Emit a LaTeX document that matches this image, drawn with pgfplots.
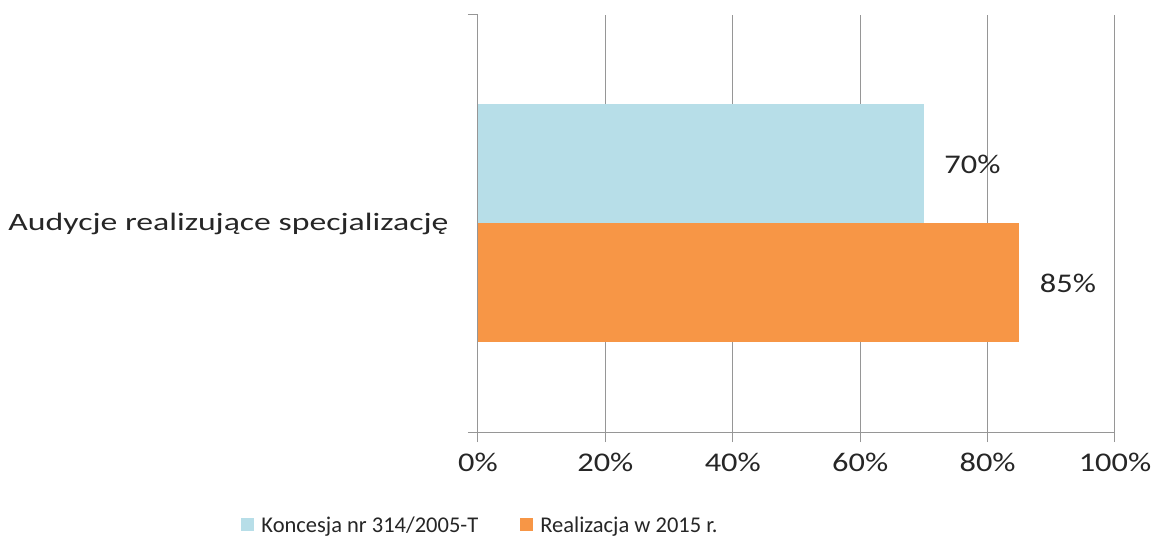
\documentclass[border=0pt]{standalone}
\usepackage{fontspec}
\setmainfont{Carlito}
\newfontfamily\wide[FakeStretch=1.2]{Carlito}
\newfontfamily\wider[FakeStretch=1.35]{Carlito}
\usepackage{pgfplots}
\pgfplotsset{compat=1.18}
\definecolor{cblue}{RGB}{183,222,232}
\definecolor{corange}{RGB}{247,150,70}
\definecolor{gridc}{RGB}{150,150,150}
\definecolor{txt}{RGB}{38,38,38}
\begin{document}
\begin{tikzpicture}[x=1pt,y=1pt]
\useasboundingbox (-478,-104) rectangle (682,432);
\begin{axis}[
  at={(0,0)}, anchor=south west,
  scale only axis, width=637pt, height=417pt,
  xbar, bar width=119pt,
  xmin=0, xmax=100, ymin=-0.5, ymax=0.5,
  /pgf/number format/assume math mode=true,
  axis lines*=left,
  axis line style={-, draw=gridc, line width=1pt},
  xtick={0,20,40,60,80,100},
  xticklabel={\wide\pgfmathprintnumber{\tick}\%},
  xticklabel style={font=\fontsize{27}{30}\selectfont, text=txt, yshift=-8pt},
  ytick={-0.5,0.5}, yticklabels={,},
  extra y ticks={0},
  extra y tick labels={{\wider Audycje realizujące specjalizację}},
  extra y tick style={major tick length=0pt, yticklabel style={font=\fontsize{25}{28}\selectfont, text=txt, xshift=-26pt}},
  tick align=outside, major tick length=10pt,
  tick style={draw=gridc, line width=1pt},
  xmajorgrids, grid style={draw=gridc, line width=1pt},
  nodes near coords={\wide\pgfmathprintnumber{\pgfplotspointmeta}\%},
  every node near coord/.append style={font=\fontsize{27}{30}\selectfont, text=txt, xshift=17pt},
  legend style={at={(0.004,-0.223)}, anchor=center, legend columns=2, draw=none,
    font=\fontsize{22.5}{24}\selectfont, text=txt,
    /tikz/every odd column/.append style={column sep=5pt},
    /tikz/every even column/.append style={column sep=40pt}},
  legend image code/.code={\fill[#1,draw=none] (0pt,-6.5pt) rectangle (13pt,6.5pt);},
]
\addplot[fill=cblue, draw=none, bar shift=59.5pt] coordinates {(70,0)};
\addplot[fill=corange, draw=none, bar shift=-59.5pt] coordinates {(85,0)};
\legend{Koncesja nr 314/2005-T, Realizacja w 2015 r.}
\end{axis}
\end{tikzpicture}
\end{document}
